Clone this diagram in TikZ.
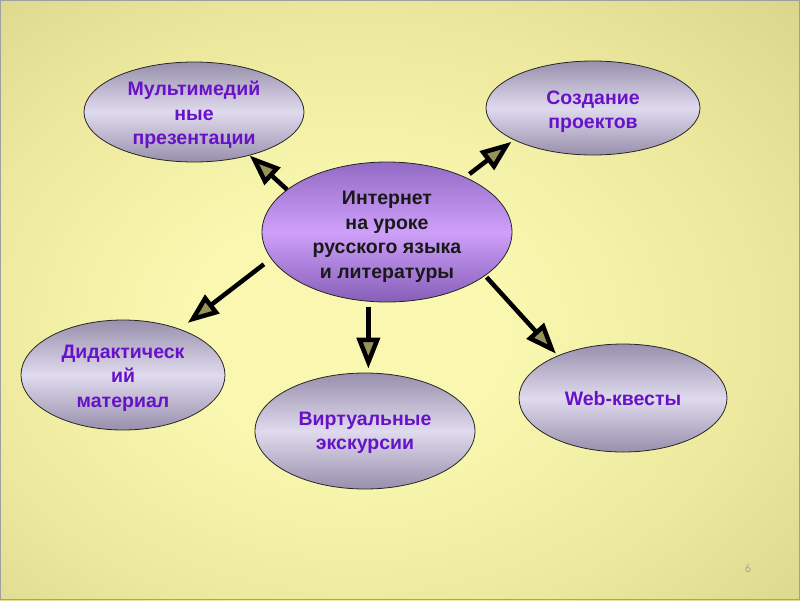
\documentclass[tikz,border=0pt]{standalone}
\usepackage{fontspec}
\setmainfont{Liberation Sans}
\newfontfamily\pagenumfont{Carlito}
\usetikzlibrary{shapes.geometric,arrows.meta}
\definecolor{bgIn}{RGB}{250,248,176}
\definecolor{bgMid}{RGB}{236,233,158}
\definecolor{bgEdge}{RGB}{200,195,122}
\definecolor{bgOut}{RGB}{174,169,102}
\definecolor{elTop}{RGB}{152,144,172}
\definecolor{elMid}{RGB}{224,218,238}
\definecolor{cTop}{RGB}{146,106,196}
\definecolor{cMid}{RGB}{206,160,250}
\definecolor{cBot}{RGB}{134,94,184}
\definecolor{txtPurple}{RGB}{104,18,200}
\definecolor{tipfill}{RGB}{150,146,92}
\pgfdeclareradialshading{bgshade}{\pgfpoint{-4bp}{-3bp}}{color(0bp)=(bgIn); color(10bp)=(bgIn); color(25bp)=(bgMid); color(50bp)=(bgEdge); color(72bp)=(bgOut)}
\tikzset{
  bubble/.style={ellipse, draw=black!85, line width=0.8pt, inner sep=0pt,
    top color=elTop, bottom color=elTop, middle color=elMid},
  hub/.style={ellipse, draw=black!85, line width=0.8pt, inner sep=0pt,
    top color=cTop, bottom color=cBot, middle color=cMid},
  btext/.style={text=txtPurple, align=center, inner sep=0pt,
    font=\fontsize{19.5}{24.5}\selectfont\bfseries},
  htext/.style={text=black!90, align=center, inner sep=0pt,
    font=\fontsize{19.5}{24.5}\selectfont\bfseries},
  arr/.style={line width=4.5pt, draw=black,
    -{Triangle[length=31pt,width=23pt,line width=4.5pt,fill=tipfill]}}
}
\begin{document}
\begin{tikzpicture}[x=1pt,y=-1pt]
\useasboundingbox (0,0) rectangle (800,600);
\fill[shading=bgshade] (0,0) rectangle (800,600);
\draw[gray!75, line width=1pt] (0.5,0.5) rectangle (799.5,599.5);

\node[hub, minimum width=250pt, minimum height=140pt] (c) at (387,232) {};
\node[bubble, minimum width=220pt, minimum height=100pt] (m) at (194,112) {};
\node[bubble, minimum width=214pt, minimum height=94pt] (s) at (593,108) {};
\node[bubble, minimum width=204pt, minimum height=110pt] (d) at (123,375) {};
\node[bubble, minimum width=220pt, minimum height=116pt] (v) at (365,431) {};
\node[bubble, minimum width=208pt, minimum height=108pt] (w) at (623,398) {};

\node[htext] (ct) at ([yshift=-5pt]c.center) {Интернет\\на уроке\\русского языка\\и литературы};
\node[btext] (mt) at ([yshift=-3pt]m.center) {Мультимедий\\ные\\презентации};
\node[btext] (st) at ([yshift=-3.5pt]s.center) {Создание\\проектов};
\node[btext] (dt) at ([yshift=-3pt]d.center) {Дидактическ\\ий\\материал};
\node[btext] (vt) at ([yshift=-2pt]v.center) {Виртуальные\\экскурсии};
\node[btext] (wt) at ([yshift=-1pt]w.center) {Web-квесты};

\draw[arr] (c.157.5) -- (m.322);
\draw[arr, shorten <=5pt, shorten >=3pt] (c.35.3) -- (s.202.6);
\draw[arr, shorten <=9pt, shorten >=10pt] (c.193.7) -- (d.39.8);
\draw[arr, shorten <=5pt, shorten >=4pt] (c.255.6) -- (c.255.6 |- v.north);
\draw[arr, shorten <=2pt, shorten >=2.5pt] (c.336.9) -- (w.147.2);

\node[text=gray!70, font=\pagenumfont\fontsize{12}{14}\selectfont] (pg) at (748,568) {6};
\end{tikzpicture}
\end{document}
